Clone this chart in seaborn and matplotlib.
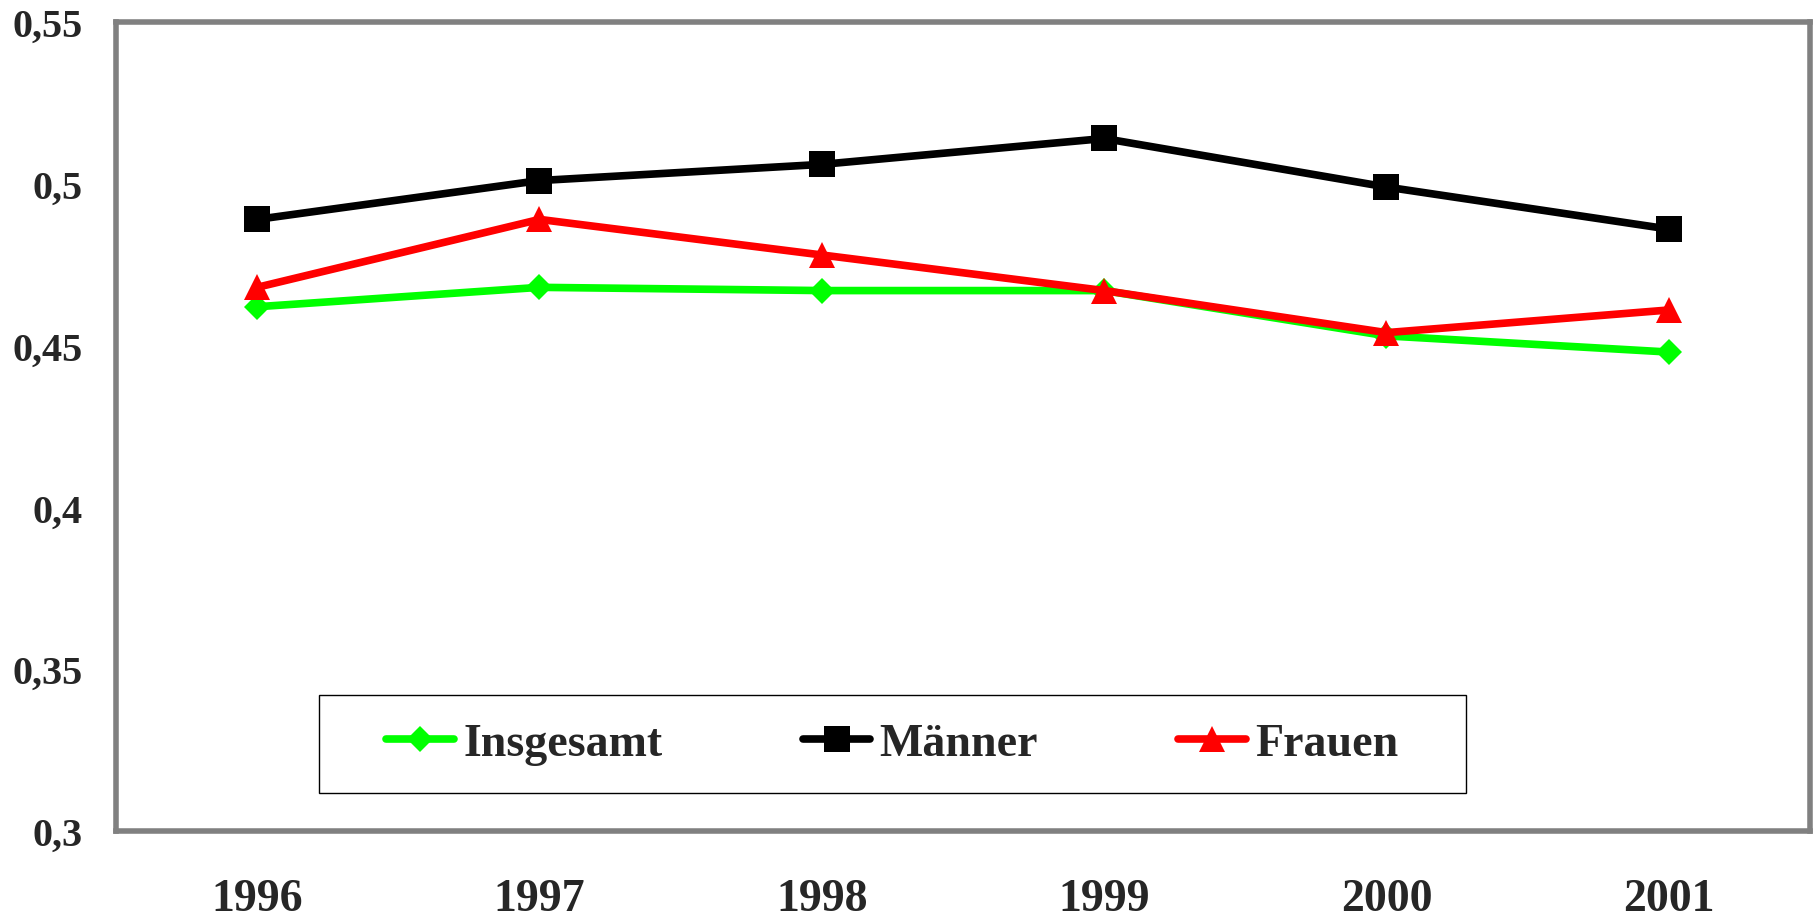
import pandas as pd
import numpy as np
import matplotlib.pyplot as plt
import seaborn as sns
from matplotlib.patches import Rectangle

# ===================================================
# DATA
# ===================================================
years = ["1996", "1997", "1998", "1999", "2000", "2001"]
insgesamt = [0.462, 0.468, 0.467, 0.467, 0.453, 0.448]
maenner = [0.489, 0.501, 0.506, 0.514, 0.499, 0.486]
frauen = [0.468, 0.489, 0.478, 0.467, 0.454, 0.461]
y_ticks = [0.3, 0.35, 0.4, 0.45, 0.5, 0.55]
y_ticklabels = ["0,3", "0,35", "0,4", "0,45", "0,5", "0,55"]

series = [
    ("Insgesamt", insgesamt, "#00ff00", "D", 13),
    ("Männer", maenner, "#000000", "s", 18.5),
    ("Frauen", frauen, "#ff0000", "^", 19),
]

# ===================================================
# STYLE
# ===================================================
sns.set_style("white")
plt.rcParams["font.family"] = ["Liberation Serif", "DejaVu Serif"]
plt.rcParams["font.weight"] = "bold"

fig = plt.figure(figsize=(18.18, 9.2), dpi=100)
ax = fig.add_axes([0.0638, 0.0957, 0.9318, 0.8793])

for name, vals, color, marker, ms in series:
    df = pd.DataFrame({"Jahr": years, "Wert": vals})
    sns.lineplot(data=df, x="Jahr", y="Wert", ax=ax, color=color, marker=marker,
                 markersize=ms, markeredgewidth=0, linewidth=5.5, label=name,
                 sort=False)

# -----> axes
ax.set_xlim(-0.5, len(years) - 0.5)
ax.set_ylim(0.3, 0.55)
ax.set_yticks(y_ticks)
ax.set_yticklabels(y_ticklabels, fontsize=29, fontweight="bold")
ax.set_xticks(range(len(years)))
ax.set_xticklabels(years, fontsize=33, fontweight="bold")
ax.set_xticks(np.arange(-0.5, len(years), 1.0), minor=True)
ax.tick_params(axis="x", which="major", length=0, pad=34)
ax.tick_params(axis="x", which="minor", length=9.5, width=1, color="black", direction="out")
ax.tick_params(axis="y", length=9.5, width=1, color="black", direction="out", pad=14.5)
ax.set_xlabel("")
ax.set_ylabel("")
for sp in ax.spines.values():
    sp.set_color("#808080")
    sp.set_linewidth(4)

# -----> legend (frameless, box drawn separately)
leg = ax.legend(loc="center", bbox_to_anchor=(0.1198, 0.047, 0.6771, 0.1211),
                ncol=3, frameon=False, prop={"size": 33, "weight": "bold"},
                handlelength=1.48, handletextpad=0.2, columnspacing=3.06,
                numpoints=1)
ax.add_patch(Rectangle((0.1198, 0.047), 0.6771, 0.1211, transform=ax.transAxes,
                       facecolor="white", edgecolor="black", linewidth=1, zorder=4))
leg.set_zorder(5)

fig.savefig("out.png", dpi=100, facecolor="white")
